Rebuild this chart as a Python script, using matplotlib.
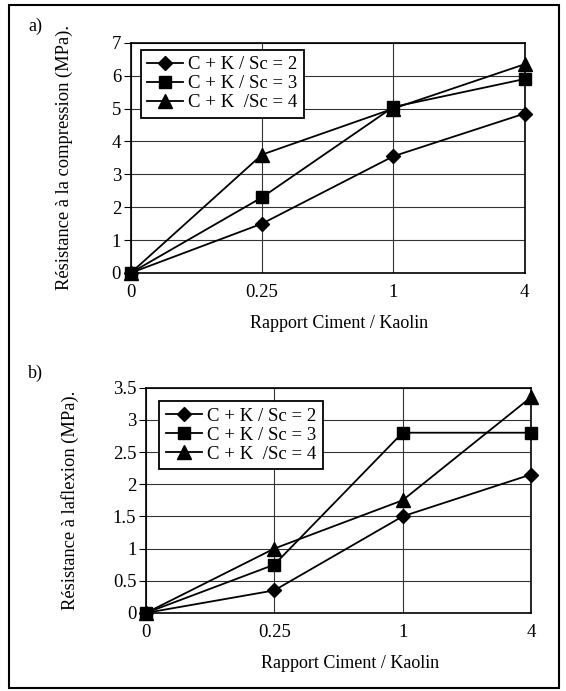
import matplotlib.pyplot as plt
from matplotlib.patches import Rectangle

plt.rcParams['font.family'] = ['Liberation Serif', 'DejaVu Serif']

ratios = ['0', '0.25', '1', '4']
labels = ['C + K / Sc = 2', 'C + K / Sc = 3', 'C + K  /Sc = 4']
markers = ['D', 's', '^']

# a) compression
comp_sc2 = [0, 1.5, 3.55, 4.85]
comp_sc3 = [0, 2.3, 5.05, 5.9]
comp_sc4 = [0, 3.6, 5.0, 6.35]

# b) flexion
flex_sc2 = [0, 0.35, 1.5, 2.15]
flex_sc3 = [0, 0.75, 2.8, 2.8]
flex_sc4 = [0, 1.0, 1.75, 3.35]

fig = plt.figure(figsize=(5.66, 6.91), dpi=100)
fig.patches.append(Rectangle((0.016, 0.005), 0.972, 0.988, transform=fig.transFigure,
                             fill=False, edgecolor='black', linewidth=1.5))

ax1 = fig.add_axes([0.231, 0.605, 0.696, 0.333])
ax2 = fig.add_axes([0.258, 0.113, 0.680, 0.326])

x = list(range(len(ratios)))
ms = [7.5, 9, 10]


def draw(ax, series, ymax, ystep, ylabel, leg_anchor, lpad):
    for vals, m, lab, s in zip(series, markers, labels, ms):
        ax.plot(x, vals, color='black', marker=m, markersize=s, linewidth=1.3,
                label=lab, clip_on=False, zorder=3)
    ax.set_xlim(0, 3)
    ax.set_ylim(0, ymax)
    n = int(round(ymax / ystep))
    yt = [i * ystep for i in range(n + 1)]
    ax.set_yticks(yt)
    ax.set_yticklabels([('%g' % v) for v in yt])
    ax.set_xticks(x)
    ax.set_xticklabels(ratios)
    ax.grid(True, color='#333333', linewidth=0.8)
    ax.set_axisbelow(True)
    ax.tick_params(axis='y', direction='out', length=5, labelsize=13.5, pad=2)
    ax.tick_params(axis='x', length=0, labelsize=13.5, pad=8)
    for sp in ax.spines.values():
        sp.set_linewidth(1.2)
    ax.set_xlabel('Rapport Ciment / Kaolin', fontsize=13, labelpad=10)
    ax.xaxis.label.set_x(0.53)
    ax.set_ylabel(ylabel, fontsize=13.3, labelpad=lpad)
    leg = ax.legend(loc='upper left', bbox_to_anchor=leg_anchor, borderaxespad=0,
                    fontsize=13.5, frameon=True, fancybox=False, edgecolor='black',
                    handlelength=1.9, handletextpad=0.3, labelspacing=0.1,
                    borderpad=0.35, framealpha=1)
    leg.get_frame().set_linewidth(1.3)


draw(ax1, [comp_sc2, comp_sc3, comp_sc4], 7, 1,
     'Résistance à la compression (MPa).', (0.025, 0.97), 28)
draw(ax2, [flex_sc2, flex_sc3, flex_sc4], 3.5, 0.5,
     'Résistance à laflexion (MPa).', (0.035, 0.94), 24)

fig.text(0.05, 0.955, 'a)', fontsize=13)
fig.text(0.05, 0.453, 'b)', fontsize=13)

fig.savefig('out.png', dpi=100)
